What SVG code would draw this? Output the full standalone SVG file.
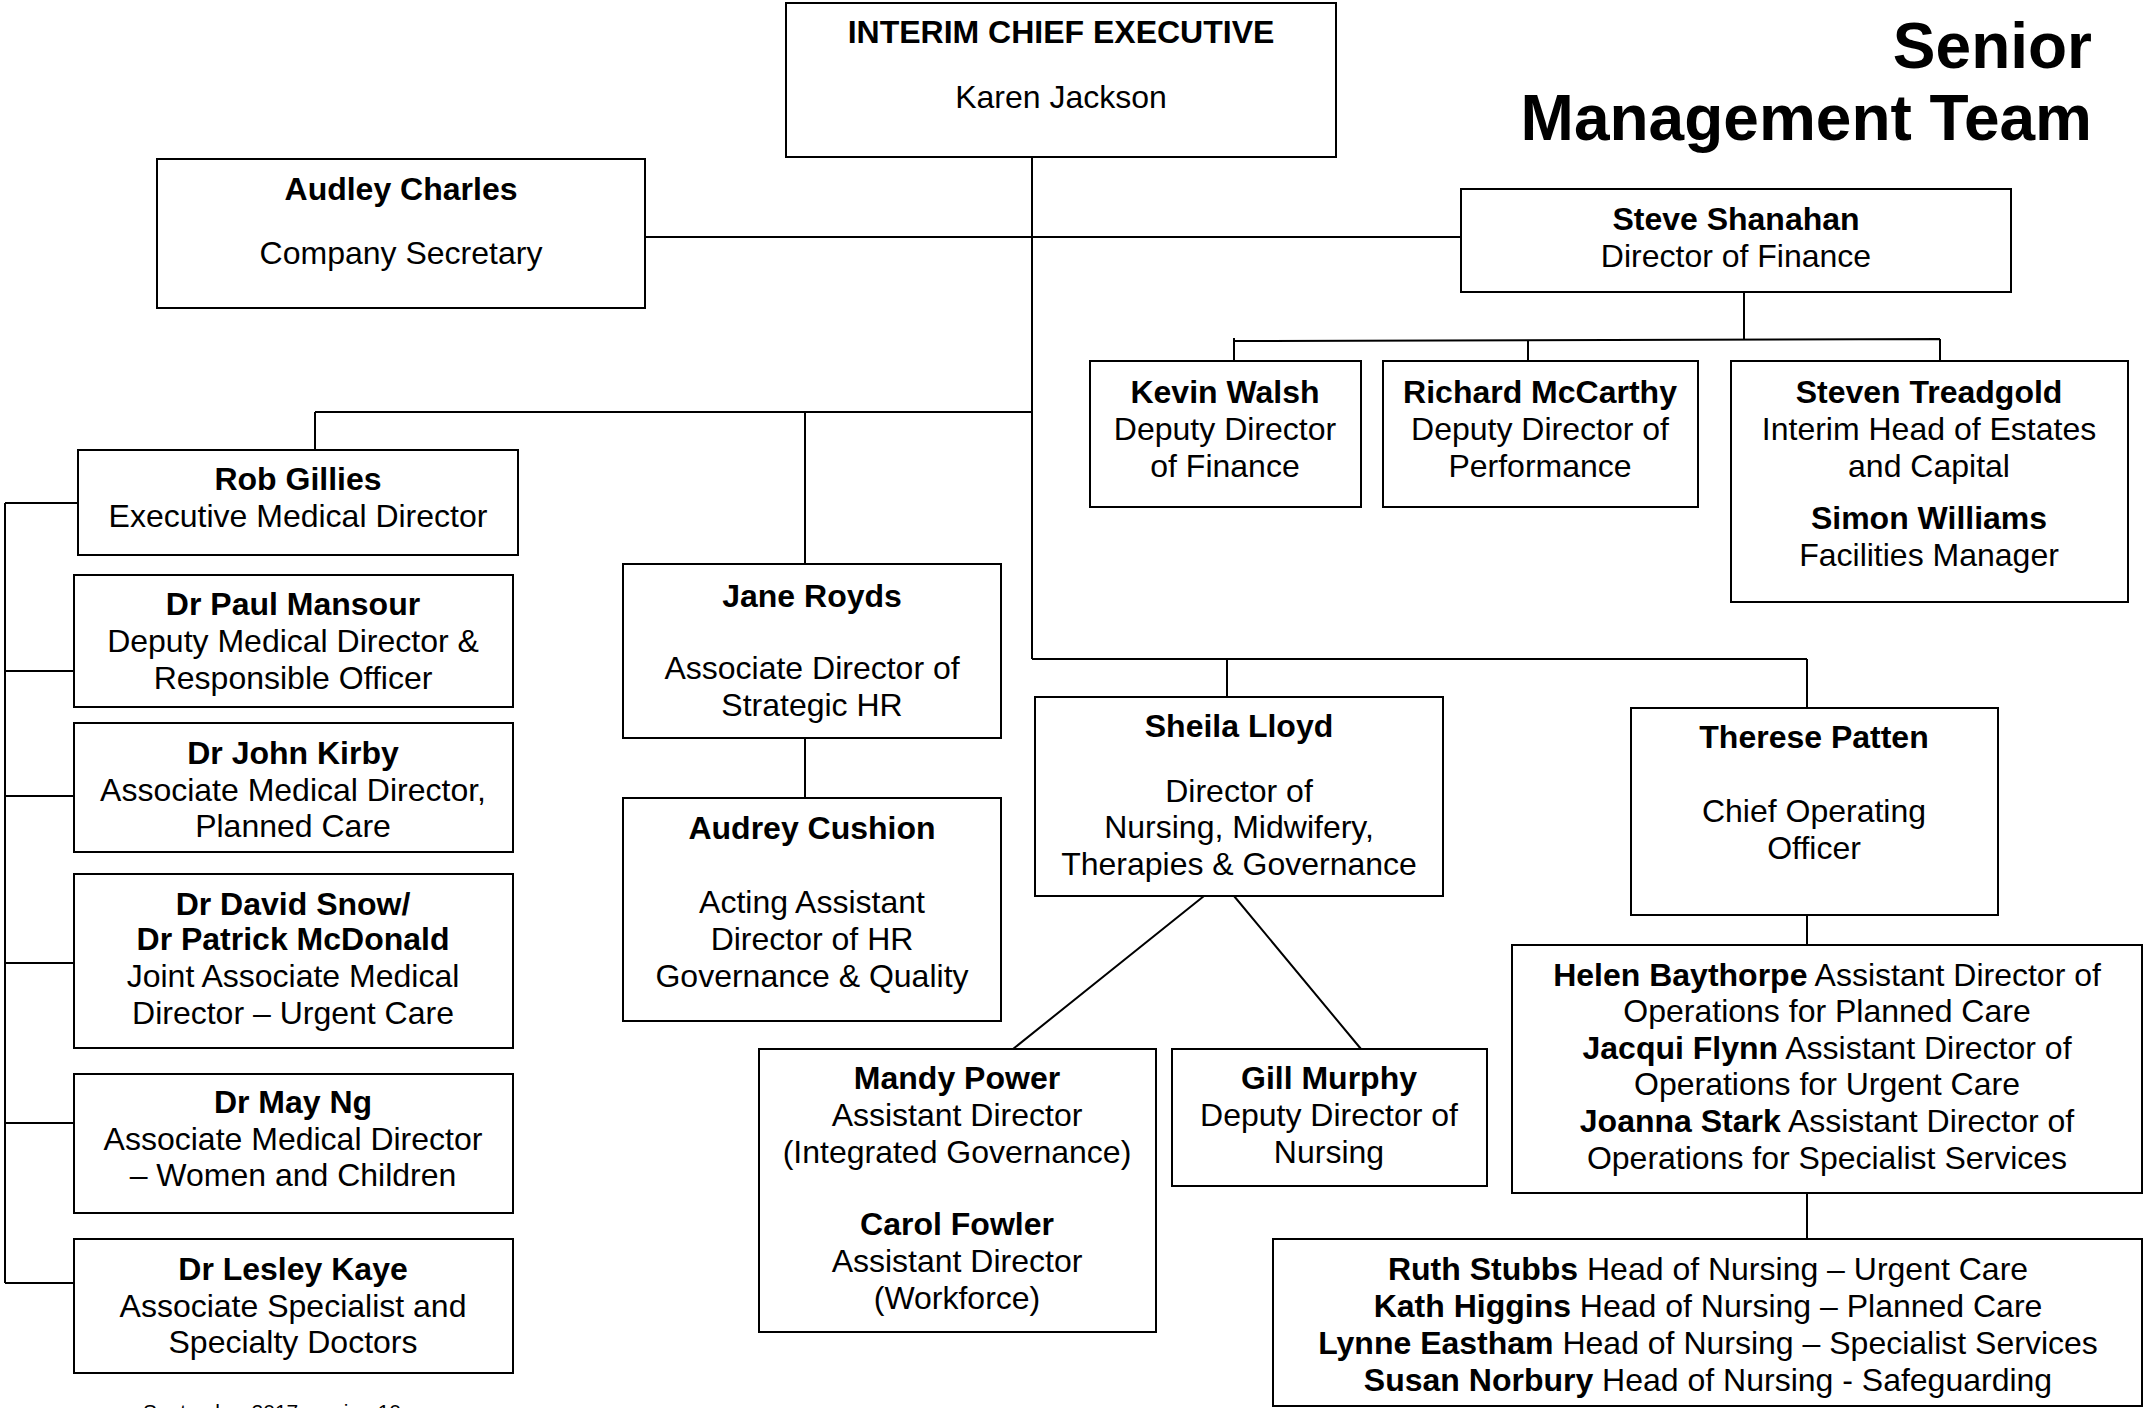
<svg xmlns="http://www.w3.org/2000/svg" width="2147" height="1408" viewBox="0 0 2147 1408">
<style>
text{font-family:"Liberation Sans",Arial,sans-serif;font-size:32px;fill:#000;text-anchor:middle}
.b{font-weight:bold}
.box{fill:#fff;stroke:#000;stroke-width:2}
.ln{stroke:#000;stroke-width:2;fill:none}
.title{font-size:64px;font-weight:bold;text-anchor:end}
.foot{font-size:21px;text-anchor:start}
</style>
<rect width="2147" height="1408" fill="#fff"/>
<g id="connectors">
<path class="ln" d="M1032 157V659"/>
<path class="ln" d="M645 237H1461"/>
<path class="ln" d="M315 412H1032M315 412V450M805 412V564M805 738V798"/>
<path class="ln" d="M1032 659H1807M1227 659V697M1807 659V708M1807 915V945M1807 1193V1239"/>
<path class="ln" d="M1204 896L1013 1049M1234 896L1361 1049"/>
<path class="ln" d="M1744 292V340M1234 341L1940 339M1234 338V361M1528 340V365M1940 339V361"/>
<path class="ln" d="M5 503V1283M5 503H78M5 671H74M5 796H74M5 963H74M5 1123H74M5 1283H74"/>
</g>
<g id="ceo"><rect class="box" x="786" y="3" width="550" height="154"/>
<text x="1061" y="43" class="b">INTERIM CHIEF EXECUTIVE</text>
<text x="1061" y="108">Karen Jackson</text></g>
<g id="title"><text class="title" x="2092" y="68">Senior</text><text class="title" x="2092" y="140">Management Team</text></g>
<g id="audley"><rect class="box" x="157" y="159" width="488" height="149"/>
<text x="401" y="200" class="b">Audley Charles</text><text x="401" y="264">Company Secretary</text></g>
<g id="steve"><rect class="box" x="1461" y="189" width="550" height="103"/>
<text x="1736" y="230" class="b">Steve Shanahan</text><text x="1736" y="267">Director of Finance</text></g>
<g id="kevin"><rect class="box" x="1090" y="361" width="271" height="146"/>
<text x="1225" y="403" class="b">Kevin Walsh</text><text x="1225" y="440">Deputy Director</text><text x="1225" y="477">of Finance</text></g>
<g id="richard"><rect class="box" x="1383" y="361" width="315" height="146"/>
<text x="1540" y="403" class="b">Richard McCarthy</text><text x="1540" y="440">Deputy Director of</text><text x="1540" y="477">Performance</text></g>
<g id="steven"><rect class="box" x="1731" y="361" width="397" height="241"/>
<text x="1929" y="403" class="b">Steven Treadgold</text><text x="1929" y="440">Interim Head of Estates</text><text x="1929" y="477">and Capital</text>
<text x="1929" y="529" class="b">Simon Williams</text><text x="1929" y="566">Facilities Manager</text></g>
<g id="rob"><rect class="box" x="78" y="450" width="440" height="105"/>
<text x="298" y="490" class="b">Rob Gillies</text><text x="298" y="527">Executive Medical Director</text></g>
<g id="paul"><rect class="box" x="74" y="575" width="439" height="132"/>
<text x="293" y="615" class="b">Dr Paul Mansour</text><text x="293" y="652">Deputy Medical Director &amp;</text><text x="293" y="689">Responsible Officer</text></g>
<g id="john"><rect class="box" x="74" y="723" width="439" height="129"/>
<text x="293" y="764" class="b">Dr John Kirby</text><text x="293" y="801">Associate Medical Director,</text><text x="293" y="837">Planned Care</text></g>
<g id="david"><rect class="box" x="74" y="874" width="439" height="174"/>
<text x="293" y="915" class="b">Dr David Snow/</text><text x="293" y="950" class="b">Dr Patrick McDonald</text><text x="293" y="987">Joint Associate Medical</text><text x="293" y="1024">Director – Urgent Care</text></g>
<g id="may"><rect class="box" x="74" y="1074" width="439" height="139"/>
<text x="293" y="1113" class="b">Dr May Ng</text><text x="293" y="1150">Associate Medical Director</text><text x="293" y="1186">– Women and Children</text></g>
<g id="lesley"><rect class="box" x="74" y="1239" width="439" height="134"/>
<text x="293" y="1280" class="b">Dr Lesley Kaye</text><text x="293" y="1317">Associate Specialist and</text><text x="293" y="1353">Specialty Doctors</text></g>
<g id="jane"><rect class="box" x="623" y="564" width="378" height="174"/>
<text x="812" y="607" class="b">Jane Royds</text><text x="812" y="679">Associate Director of</text><text x="812" y="716">Strategic HR</text></g>
<g id="audrey"><rect class="box" x="623" y="798" width="378" height="223"/>
<text x="812" y="839" class="b">Audrey Cushion</text><text x="812" y="913">Acting Assistant</text><text x="812" y="950">Director of HR</text><text x="812" y="987">Governance &amp; Quality</text></g>
<g id="sheila"><rect class="box" x="1035" y="697" width="408" height="199"/>
<text x="1239" y="737" class="b">Sheila Lloyd</text><text x="1239" y="802">Director of</text><text x="1239" y="838">Nursing, Midwifery,</text><text x="1239" y="875">Therapies &amp; Governance</text></g>
<g id="therese"><rect class="box" x="1631" y="708" width="367" height="207"/>
<text x="1814" y="748" class="b">Therese Patten</text><text x="1814" y="822">Chief Operating</text><text x="1814" y="859">Officer</text></g>
<g id="mandy"><rect class="box" x="759" y="1049" width="397" height="283"/>
<text x="957" y="1089" class="b">Mandy Power</text><text x="957" y="1126">Assistant Director</text><text x="957" y="1163">(Integrated Governance)</text>
<text x="957" y="1235" class="b">Carol Fowler</text><text x="957" y="1272">Assistant Director</text><text x="957" y="1309">(Workforce)</text></g>
<g id="gill"><rect class="box" x="1172" y="1049" width="315" height="137"/>
<text x="1329" y="1089" class="b">Gill Murphy</text><text x="1329" y="1126">Deputy Director of</text><text x="1329" y="1163">Nursing</text></g>
<g id="helen"><rect class="box" x="1512" y="945" width="630" height="248"/>
<text x="1827" y="986"><tspan class="b">Helen Baythorpe</tspan> Assistant Director of</text>
<text x="1827" y="1022">Operations for Planned Care</text>
<text x="1827" y="1059"><tspan class="b">Jacqui Flynn</tspan> Assistant Director of</text>
<text x="1827" y="1095">Operations for Urgent Care</text>
<text x="1827" y="1132"><tspan class="b">Joanna Stark</tspan> Assistant Director of</text>
<text x="1827" y="1169">Operations for Specialist Services</text></g>
<g id="ruth"><rect class="box" x="1273" y="1239" width="869" height="167"/>
<text x="1708" y="1280"><tspan class="b">Ruth Stubbs</tspan> Head of Nursing – Urgent Care</text>
<text x="1708" y="1317"><tspan class="b">Kath Higgins</tspan> Head of Nursing – Planned Care</text>
<text x="1708" y="1354"><tspan class="b">Lynne Eastham</tspan> Head of Nursing – Specialist Services</text>
<text x="1708" y="1391"><tspan class="b">Susan Norbury</tspan> Head of Nursing - Safeguarding</text></g>
<text class="foot" x="143" y="1419">September 2017 version 10</text>
</svg>
